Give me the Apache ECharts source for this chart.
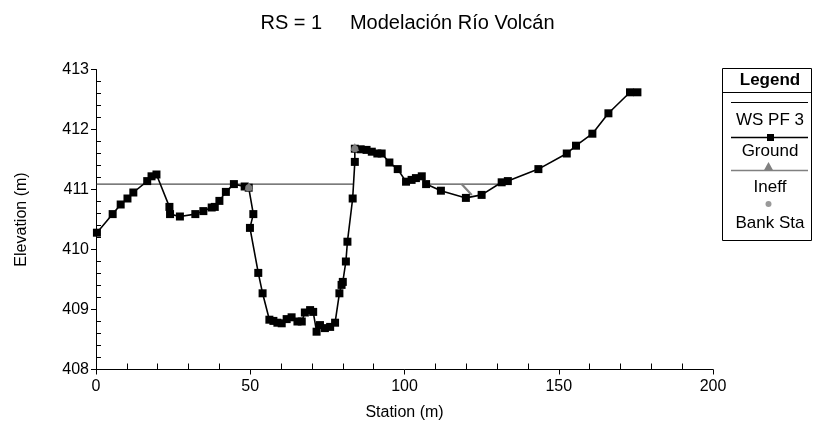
<!DOCTYPE html>
<html>
<head>
<meta charset="utf-8">
<script src="https://cdn.jsdelivr.net/npm/echarts@6/dist/echarts.min.js"></script>
<style>
html,body{margin:0;padding:0;background:#fff;}
#c{width:815px;height:436px;}
</style>
</head>
<body>
<div id="c"></div>
<script>
// ---- data ----
var titleText = 'RS = 1     Modelación Río Volcán';
var xAxisName = 'Station (m)';
var yAxisName = 'Elevation (m)';
var xTicks = [0, 50, 100, 150, 200];
var yTicks = [408, 409, 410, 411, 412, 413];

var groundStation = [0.3, 5.4, 8.0, 10.2, 12.1, 16.6, 18.0, 19.6, 23.8, 24.0, 27.2, 32.2, 34.8, 37.5, 38.5, 40.0, 42.1, 44.7, 48.2, 49.5,
  51.0, 49.9, 52.6, 54.0, 56.2, 57.5, 58.8, 60.2, 61.8, 63.4, 65.3, 66.7, 67.7, 69.4, 70.4, 71.5, 72.6, 74.2, 75.9, 77.5,
  78.9, 79.6, 80.0, 81.0, 81.5, 83.2, 83.9, 83.9, 85.8, 87.7, 89.4, 91.2, 92.6, 95.1, 97.8, 100.5, 102.3, 103.7, 105.6, 107.0,
  111.8, 119.9, 125.0, 131.5, 133.5, 143.4, 152.6, 155.6, 160.9, 166.1, 173.1, 175.5];
var groundElev = [410.28, 410.59, 410.75, 410.85, 410.95, 411.14, 411.22, 411.25, 410.71, 410.59, 410.55, 410.59, 410.64, 410.70, 410.71, 410.81, 410.96, 411.09, 411.05, 411.03,
  410.59, 410.36, 409.61, 409.27, 408.83, 408.81, 408.78, 408.77, 408.84, 408.87, 408.80, 408.80, 408.95, 408.99, 408.96, 408.63, 408.74, 408.69, 408.71, 408.78,
  409.27, 409.41, 409.46, 409.80, 410.13, 410.85, 411.46, 411.68, 411.67, 411.66, 411.63, 411.60, 411.60, 411.45, 411.34, 411.13, 411.16, 411.19, 411.22, 411.09,
  410.98, 410.86, 410.91, 411.12, 411.14, 411.34, 411.60, 411.73, 411.93, 412.27, 412.62, 412.62];

var wsLeftStation = [0, 83.3];
var wsRightStation = [106.8, 131.0];
var wsElev = 411.09;

var ineffStation = [49.5, 83.9];
var ineffElev = [411.05, 411.71];
var ineffLineStation = [118.5, 121.8];
var ineffLineElev = [411.09, 410.91];

var bankStation = [49.5, 83.9];
var bankElev = [411.03, 411.68];

var legendItems = ['WS PF 3', 'Ground', 'Ineff', 'Bank Sta'];

// ---- build ----
function zip(a, b) { return a.map(function (v, i) { return [v, b[i]]; }); }
var groundData = zip(groundStation, groundElev);
var wsData = [[wsLeftStation[0], wsElev], [wsLeftStation[1], wsElev], '-', [wsRightStation[0], wsElev], [wsRightStation[1], wsElev]];
var ineffData = zip(ineffStation, ineffElev);
var ineffLineData = zip(ineffLineStation, ineffLineElev);
var bankData = zip(bankStation, bankElev);

var FONT = 'Liberation Sans';
var chart = echarts.init(document.getElementById('c'), null, {renderer: 'canvas'});

var lx = 722, ly = 68, lw = 89, lh = 172, lcx = 770;
var LF = '17px ' + FONT;
var graphics = [
  {type: 'rect', shape: {x: lx + 0.5, y: ly + 0.5, width: lw, height: lh}, style: {fill: '#fff', stroke: '#000', lineWidth: 1}, z: 100},
  {type: 'line', shape: {x1: lx, y1: 92.5, x2: lx + lw, y2: 92.5}, style: {stroke: '#000', lineWidth: 1}, z: 101},
  {type: 'text', style: {text: 'Legend', x: lcx, y: 80, align: 'center', verticalAlign: 'middle', font: 'bold 17px ' + FONT, fill: '#000'}, z: 101},
  // WS PF 3
  {type: 'line', shape: {x1: 731, y1: 102.5, x2: 808, y2: 102.5}, style: {stroke: '#000', lineWidth: 1}, z: 101},
  {type: 'text', style: {text: legendItems[0], x: lcx, y: 120, align: 'center', verticalAlign: 'middle', font: LF, fill: '#000'}, z: 101},
  // Ground
  {type: 'line', shape: {x1: 731, y1: 137.5, x2: 808, y2: 137.5}, style: {stroke: '#000', lineWidth: 1.3}, z: 101},
  {type: 'rect', shape: {x: 767, y: 134, width: 7, height: 7}, style: {fill: '#000'}, z: 102},
  {type: 'text', style: {text: legendItems[1], x: lcx, y: 151, align: 'center', verticalAlign: 'middle', font: LF, fill: '#000'}, z: 101},
  // Ineff
  {type: 'line', shape: {x1: 731, y1: 170.5, x2: 808, y2: 170.5}, style: {stroke: '#808080', lineWidth: 1.3}, z: 101},
  {type: 'polygon', shape: {points: [[768.5, 162], [763.5, 171], [773.5, 171]]}, style: {fill: '#808080'}, z: 102},
  {type: 'text', style: {text: legendItems[2], x: lcx, y: 187, align: 'center', verticalAlign: 'middle', font: LF, fill: '#000'}, z: 101},
  // Bank Sta
  {type: 'circle', shape: {cx: 768.5, cy: 204, r: 3}, style: {fill: '#999'}, z: 102},
  {type: 'text', style: {text: legendItems[3], x: lcx, y: 223, align: 'center', verticalAlign: 'middle', font: LF, fill: '#000'}, z: 101}
];

var option = {
  animation: false,
  backgroundColor: '#fff',
  textStyle: {fontFamily: FONT},
  title: {
    text: titleText, left: 'center', top: 8,
    textStyle: {fontFamily: FONT, fontWeight: 'normal', fontSize: 20, color: '#000'}
  },
  grid: {left: 96, right: 102, top: 69.5, bottom: 66.5, containLabel: false},
  xAxis: {
    type: 'value', min: xTicks[0], max: xTicks[xTicks.length - 1], interval: 50,
    name: xAxisName, nameLocation: 'middle', nameGap: 35,
    nameTextStyle: {fontFamily: FONT, fontSize: 16, color: '#000'},
    axisLine: {show: true, onZero: false, lineStyle: {color: '#000', width: 1}},
    axisTick: {show: true, length: 5, lineStyle: {color: '#000'}},
    minorTick: {show: true, splitNumber: 5, length: -6, lineStyle: {color: '#000'}},
    axisLabel: {fontFamily: FONT, fontSize: 16, color: '#000', margin: 9},
    splitLine: {show: false}
  },
  yAxis: {
    type: 'value', min: yTicks[0], max: yTicks[yTicks.length - 1], interval: 1,
    name: yAxisName, nameLocation: 'middle', nameGap: 66, nameRotate: 90,
    nameTextStyle: {fontFamily: FONT, fontSize: 16, color: '#000'},
    axisLine: {show: true, onZero: false, lineStyle: {color: '#000', width: 1}},
    axisTick: {show: true, length: 5, lineStyle: {color: '#000'}},
    minorTick: {show: true, splitNumber: 5, length: -5, lineStyle: {color: '#000'}},
    axisLabel: {fontFamily: FONT, fontSize: 16, color: '#000', margin: 7},
    splitLine: {show: false}
  },
  series: [
    {
      name: 'WS PF 3', type: 'line', data: wsData, showSymbol: false, symbol: 'none',
      lineStyle: {color: '#222', width: 1}, z: 2, connectNulls: false
    },
    {
      name: 'Ineff line', type: 'line', data: ineffLineData, symbol: 'none',
      lineStyle: {color: '#808080', width: 2.2}, z: 3
    },
    {
      name: 'Ground', type: 'line', data: groundData, symbol: 'rect', symbolSize: 8,
      itemStyle: {color: '#000'}, lineStyle: {color: '#000', width: 1.6}, z: 4
    },
    {
      name: 'Bank Sta', type: 'scatter', data: bankData, symbol: 'circle', symbolSize: 7,
      itemStyle: {color: '#999'}, z: 5
    },
    {
      name: 'Ineff', type: 'scatter', data: ineffData, symbol: 'triangle', symbolSize: [9, 8],
      itemStyle: {color: '#808080'}, z: 6
    }
  ],
  graphic: graphics
};
chart.setOption(option);
</script>
</body>
</html>
